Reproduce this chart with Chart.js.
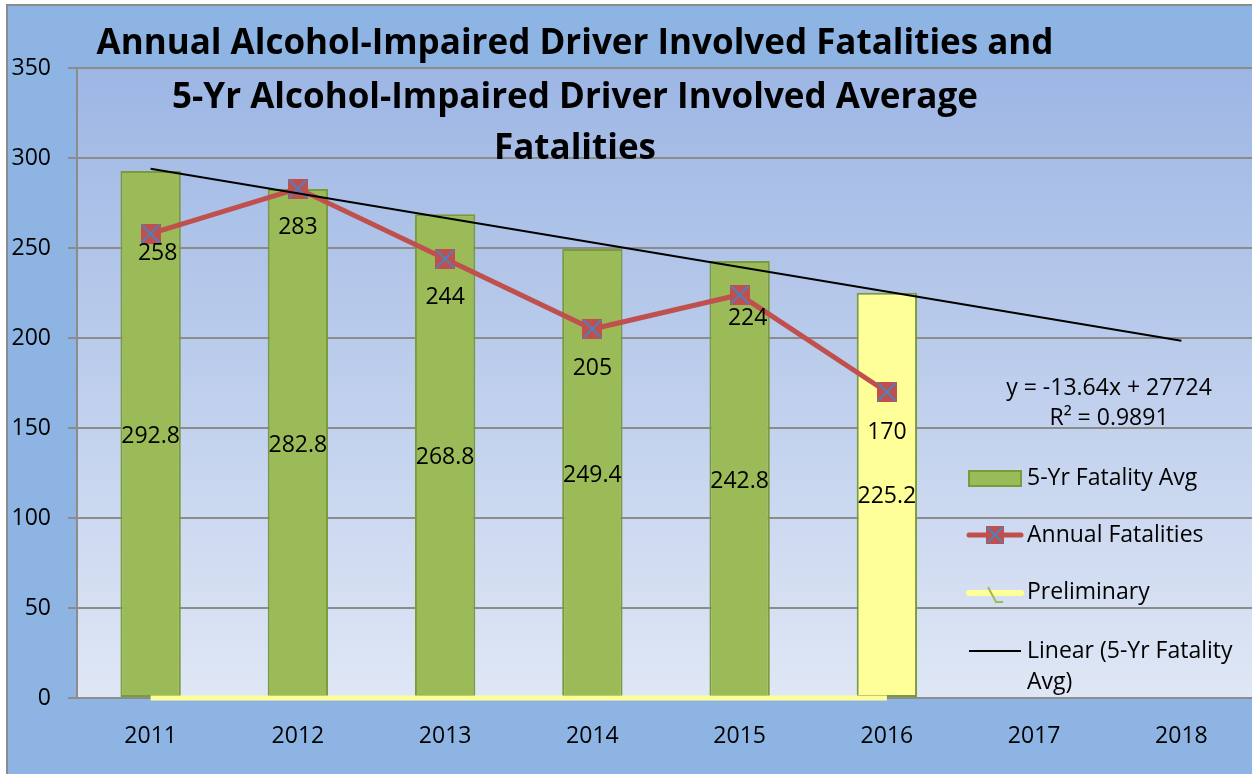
<!DOCTYPE html>
<html><head><meta charset="utf-8">
<script src="https://cdn.jsdelivr.net/npm/chart.js@4.4.1/dist/chart.umd.min.js"></script>
<style>html,body{margin:0;padding:0;background:#fff;overflow:hidden;width:1252px;height:774px}canvas{display:block}</style>
</head><body>
<canvas id="c" width="1270" height="774"></canvas>
<script>
// ---- data ----
const years = ['2011','2012','2013','2014','2015','2016','2017','2018'];
const fiveYrAvg = [292.8, 282.8, 268.8, 249.4, 242.8, 225.2, null, null];
const annualFatalities = [258, 283, 244, 205, 224, 170, null, null];
const preliminary = [0, 0, 0, 0, 0, 0, null, null];
const trendLinear = [294.0, null, null, null, null, null, null, 198.5];
const yTicks = [0, 50, 100, 150, 200, 250, 300, 350];
const titleLines = ['Annual Alcohol-Impaired Driver Involved Fatalities and',
  '5-Yr Alcohol-Impaired Driver Involved Average', 'Fatalities'];
const equationLines = ['y = -13.64x + 27724', 'R\u00B2 = 0.9891'];
const legendLabels = ['5-Yr Fatality Avg', 'Annual Fatalities', 'Preliminary', 'Linear (5-Yr Fatality', 'Avg)'];

// ---- styles ----
const FONT = '"Open Sans", Lato, sans-serif';
const FS = 23;
const GREEN = '#9BBB59', GREEN_BORDER = '#7A9A3C', YELLOW = '#FFFF99';
const RED = '#C0504D', BLUE = '#4F81BD', GRID = '#8C8C8C';

function makeMarker(size) {
  const c = document.createElement('canvas');
  c.width = size; c.height = size;
  const g = c.getContext('2d');
  g.fillStyle = RED; g.fillRect(0, 0, size, size);
  g.strokeStyle = BLUE; g.lineWidth = 2;
  g.beginPath(); g.moveTo(1, 1); g.lineTo(size - 1, size - 1);
  g.moveTo(size - 1, 1); g.lineTo(1, size - 1); g.stroke();
  return c;
}
const marker = makeMarker(20);

const bgPlugin = {
  id: 'bg',
  beforeDraw(chart) {
    const ctx = chart.ctx, a = chart.chartArea;
    ctx.save();
    ctx.fillStyle = '#fff'; ctx.fillRect(0, 0, chart.width, chart.height);
    ctx.fillStyle = '#8EB4E3'; ctx.fillRect(7, 5, chart.width - 7, chart.height - 5);
    ctx.strokeStyle = GRID; ctx.lineWidth = 2;
    ctx.beginPath(); ctx.moveTo(7, chart.height); ctx.lineTo(7, 5); ctx.lineTo(chart.width, 5); ctx.stroke();
    const gr = ctx.createLinearGradient(0, a.top, 0, a.bottom);
    gr.addColorStop(0, '#9DB6E4'); gr.addColorStop(1, '#DFE7F5');
    ctx.fillStyle = gr; ctx.fillRect(a.left, a.top, a.right - a.left, a.bottom - a.top);
    ctx.restore();
  }
};

const labelPlugin = {
  id: 'labels',
  afterDatasetsDraw(chart) {
    const ctx = chart.ctx;
    ctx.save();
    ctx.font = FS + 'px ' + FONT; ctx.fillStyle = '#000';
    ctx.textAlign = 'center'; ctx.textBaseline = 'middle';
    const barMeta = chart.getDatasetMeta(0);
    barMeta.data.forEach((el, i) => {
      const v = fiveYrAvg[i]; if (v == null) return;
      ctx.fillText(v.toFixed(1), el.x, (el.y + el.base) / 2 + 2);
    });
    const lineMeta = chart.getDatasetMeta(1);
    const offs = [[7, 20], [0, 39], [0, 39], [0, 39], [8, 24], [0, 40]];
    lineMeta.data.forEach((el, i) => {
      const v = annualFatalities[i]; if (v == null) return;
      const o = offs[i] || [0, 39];
      ctx.fillText(String(v), el.x + o[0], el.y + o[1]);
    });
    ctx.restore();
  },
  afterDraw(chart) {
    const ctx = chart.ctx;
    ctx.save();
    // title
    ctx.font = 'bold 35px ' + FONT; ctx.fillStyle = '#000';
    ctx.textAlign = 'center'; ctx.textBaseline = 'alphabetic';
    const tb = [54, 108, 159];
    titleLines.forEach((t, i) => ctx.fillText(t, 575, tb[i]));
    // equation
    ctx.font = FS + 'px ' + FONT; ctx.textBaseline = 'middle';
    ctx.fillText(equationLines[0], 1109, 388);
    ctx.fillText(equationLines[1], 1109, 418);
    // legend
    ctx.textAlign = 'left';
    const lx = 1027;
    ctx.fillStyle = GREEN; ctx.fillRect(969, 471, 52, 15);
    ctx.strokeStyle = GREEN_BORDER; ctx.lineWidth = 2; ctx.strokeRect(969, 471, 52, 15);
    ctx.fillStyle = '#000'; ctx.fillText(legendLabels[0], lx, 478);
    ctx.strokeStyle = RED; ctx.lineWidth = 5; ctx.lineCap = 'round';
    ctx.beginPath(); ctx.moveTo(969, 535); ctx.lineTo(1021, 535); ctx.stroke();
    ctx.drawImage(makeMarker(18), 986, 526);
    ctx.fillText(legendLabels[1], lx, 535);
    ctx.strokeStyle = YELLOW; ctx.lineWidth = 6;
    ctx.beginPath(); ctx.moveTo(969, 593); ctx.lineTo(1021, 593); ctx.stroke();
    ctx.strokeStyle = GREEN; ctx.lineWidth = 2; ctx.lineCap = 'butt';
    ctx.beginPath(); ctx.moveTo(988, 587); ctx.lineTo(996, 602); ctx.lineTo(1003, 602); ctx.stroke();
    ctx.fillText(legendLabels[2], lx, 592);
    ctx.strokeStyle = '#000'; ctx.lineWidth = 2;
    ctx.beginPath(); ctx.moveTo(969, 651); ctx.lineTo(1021, 651); ctx.stroke();
    ctx.fillText(legendLabels[3], lx, 651);
    ctx.fillText(legendLabels[4], lx, 682);
    ctx.restore();
  }
};

new Chart(document.getElementById('c'), {
  data: {
    labels: years,
    datasets: [
      { type: 'bar', label: '5-Yr Fatality Avg', data: fiveYrAvg,
        backgroundColor: [GREEN, GREEN, GREEN, GREEN, GREEN, YELLOW, GREEN, GREEN],
        borderColor: GREEN_BORDER, borderWidth: 2, borderSkipped: false,
        barPercentage: 0.41, categoryPercentage: 1, order: 4 },
      { type: 'line', label: 'Annual Fatalities', data: annualFatalities,
        borderColor: RED, borderWidth: 5, pointStyle: marker, pointRadius: 10,
        fill: false, tension: 0, order: 2 },
      { type: 'line', label: 'Preliminary', data: preliminary,
        borderColor: YELLOW, borderWidth: 5, pointRadius: 0, fill: false,
        clip: false, order: 3 },
      { type: 'line', label: 'Linear (5-Yr Fatality Avg)', data: trendLinear,
        borderColor: '#000', borderWidth: 2, pointRadius: 0, spanGaps: true,
        fill: false, order: 1 }
    ]
  },
  options: {
    responsive: false, animation: false,
    layout: { padding: { left: 0, top: 68, right: 0, bottom: 0 } },
    plugins: { legend: { display: false }, tooltip: { enabled: false } },
    scales: {
      x: {
        offset: true,
        grid: { display: false },
        border: { display: true, color: GRID, width: 2 },
        ticks: { color: '#000', font: { family: FONT, size: FS }, padding: 17, maxRotation: 0 },
        afterFit(s) { s.height = 76; s.paddingLeft = 0; s.paddingRight = 0; }
      },
      y: {
        min: yTicks[0], max: yTicks[yTicks.length - 1],
        afterBuildTicks(s) { s.ticks = yTicks.map(v => ({ value: v })); },
        grid: { color: GRID, lineWidth: 2, tickLength: 9, drawTicks: true, tickColor: GRID },
        border: { display: true, color: GRID, width: 2 },
        ticks: { color: '#000', font: { family: FONT, size: FS }, padding: 17 },
        afterFit(s) { s.width = 77; }
      }
    }
  },
  plugins: [bgPlugin, labelPlugin]
});
</script>
</body></html>
